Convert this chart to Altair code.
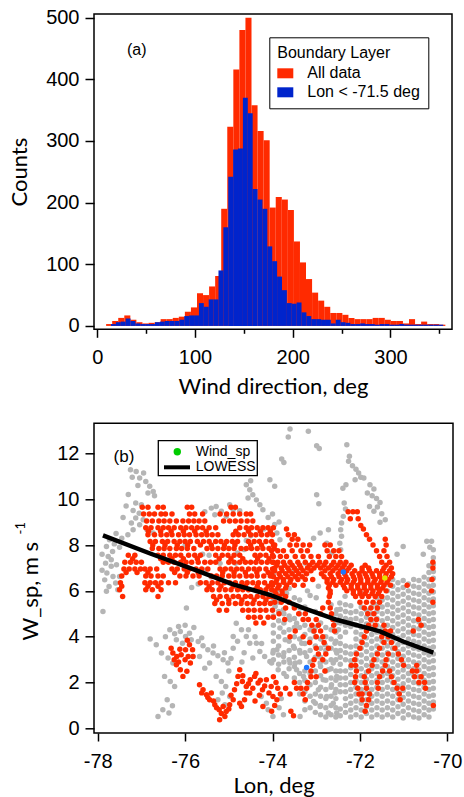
import altair as alt
import pandas as pd

RED = "#ff2a00"
BLUE_H = "#0024cc"
GRAY = "#b5b5b5"
GREEN = "#00cc00"
LABEL_FONT = "Liberation Sans"
TITLE_FONT = "Lato"

# ---------------- Panel (a): histograms ----------------
hist_red_start = 9.0
hist_red_width = 6.2
hist_red_counts = [3, 8, 13, 17, 10, 6, 4, 5, 6, 11, 11, 13, 15, 23, 30, 53, 50, 64, 81, 190,
                   323, 416, 480, 500, 358, 316, 301, 192, 209, 205, 188, 137, 103, 76, 54, 41,
                   31, 21, 21, 18, 13, 11, 11, 11, 13, 13, 10, 8, 8, 4, 11, 3, 7, 3, 3, 2]
hist_blue_start = 14.0
hist_blue_width = 5.0
hist_blue_counts = [3, 6, 7, 12, 8, 4, 3, 3, 3, 6, 7, 8, 8, 8, 10, 16, 17, 17, 37, 31,
                    43, 43, 90, 160, 242, 286, 288, 370, 345, 222, 205, 190, 129, 105, 80, 58, 37, 36, 38, 22,
                    16, 11, 11, 10, 10, 4, 10, 6, 5, 3, 3, 4, 3, 3, 2, 3, 3, 2, 2, 3,
                    2, 2, 2, 2, 2, 2, 2, 2]
series_names = ["All data", "Lon < -71.5 deg"]

# ---------------- Panel (b): scatter ----------------
gray_top_left = [(-77.25, 11.28), (-77.12, 11.21), (-76.95, 11.14), (-77.21, 10.96), (-77.04, 10.92),
                 (-76.90, 10.77), (-76.81, 10.56), (-76.73, 10.34), (-76.70, 10.15), (-76.85, 10.27),
                 (-77.13, 9.83), (-77.00, 9.76), (-77.19, 9.51), (-77.05, 9.39), (-77.13, 9.18),
                 (-76.96, 9.10), (-77.23, 8.96), (-77.04, 8.88), (-76.87, 8.67), (-77.19, 8.67),
                 (-77.31, 8.45), (-76.73, 8.52), (-77.08, 10.6), (-77.3, 10.2), (-77.35, 9.7), (-77.42, 9.2)]
gray_left_col = [(-77.73, 8.23), (-77.80, 7.94), (-77.66, 7.72), (-77.76, 7.50), (-77.82, 7.21),
                 (-77.69, 7.07), (-77.57, 7.14), (-77.79, 6.78), (-77.65, 6.63), (-77.84, 6.48),
                 (-77.74, 6.19), (-77.59, 6.34), (-77.54, 6.05), (-77.80, 5.98), (-77.88, 5.10),
                 (-77.69, 7.36), (-77.50, 6.63), (-77.9, 6.9), (-77.62, 8.05), (-77.5, 7.9),
                 (-77.45, 8.3), (-77.58, 8.5), (-77.9, 7.6)]
gray_mid_upper = [(-75.40, 9.61), (-75.29, 9.68), (-75.17, 9.47), (-75.32, 9.32), (-74.98, 9.76),
                  (-74.90, 9.54), (-75.06, 9.25), (-74.60, 10.63), (-74.52, 10.41), (-74.45, 10.19),
                  (-74.56, 10.05), (-74.37, 9.97), (-74.29, 9.76), (-74.22, 9.54), (-74.06, 10.85),
                  (-73.95, 10.56), (-75.55, 9.45), (-74.5, 10.8), (-74.75, 9.5), (-73.85, 9.0),
                  (-75.6, 7.6), (-75.45, 7.55), (-74.8, 7.65), (-74.65, 7.8), (-74.6, 8.2), (-74.5, 8.4),
                  (-74.85, 7.2), (-75.55, 6.9), (-75.4, 6.6), (-75.7, 6.3), (-75.85, 6.15), (-75.97, 5.25),
                  (-76.0, 8.0), (-76.3, 7.3), (-75.2, 7.2), (-74.2, 8.7), (-74.1, 9.2)]
gray_top_right = [(-73.60, 13.06), (-73.64, 12.71), (-73.18, 12.96), (-72.99, 12.33), (-72.93, 12.21),
                  (-72.30, 12.37), (-73.79, 11.75), (-73.74, 11.60), (-72.24, 11.87), (-72.26, 11.65),
                  (-72.17, 11.46), (-72.09, 11.31), (-72.03, 11.14), (-71.98, 10.96), (-72.11, 10.85),
                  (-71.91, 10.92), (-72.32, 10.63), (-72.39, 10.48), (-71.77, 10.63), (-71.68, 10.44),
                  (-71.83, 10.27), (-71.72, 10.15), (-71.62, 10.03), (-71.54, 9.86), (-71.60, 9.66),
                  (-71.78, 9.68), (-71.68, 9.47), (-71.50, 9.36), (-71.42, 9.10), (-71.54, 8.99),
                  (-72.99, 10.19), (-72.94, 9.80), (-72.36, 9.83), (-72.33, 9.57), (-72.38, 9.25),
                  (-72.42, 8.96), (-72.44, 8.67), (-72.42, 8.38), (-72.46, 8.08), (-72.44, 7.79),
                  (-71.01, 7.94), (-70.47, 8.16), (-70.36, 8.16), (-70.32, 7.79), (-73.90, 8.52),
                  (-73.83, 8.23), (-72.91, 8.52), (-73.06, 8.30), (-72.72, 8.67), (-72.76, 8.08),
                  (-72.65, 7.65), (-74.0, 9.35), (-73.95, 8.9), (-71.15, 7.6), (-70.55, 7.6), (-70.4, 7.9)]
gray_lower_left = [(-76.35, 4.30), (-76.24, 4.13), (-76.11, 4.23), (-75.99, 4.01), (-75.86, 3.87),
                   (-76.20, 3.87), (-76.06, 3.72), (-76.66, 3.65), (-76.54, 3.29), (-76.39, 3.07),
                   (-76.28, 2.85), (-75.70, 3.79), (-75.59, 3.61), (-75.48, 3.43), (-75.36, 3.29),
                   (-75.25, 3.17), (-75.13, 3.00), (-75.02, 2.85), (-75.44, 2.85), (-75.55, 2.63),
                   (-75.67, 3.14), (-75.82, 3.14), (-74.83, 4.59), (-74.71, 4.30), (-74.60, 4.01),
                   (-74.52, 3.72), (-74.37, 3.72), (-74.29, 3.36), (-74.18, 3.14), (-74.45, 3.07),
                   (-74.06, 2.92), (-73.99, 3.29), (-74.90, 4.01), (-76.47, 2.27), (-76.34, 2.05),
                   (-76.24, 1.83), (-76.41, 1.25), (-76.29, 0.99), (-76.51, 0.81), (-76.62, 0.52),
                   (-76.37, 0.67), (-75.29, 2.27), (-75.17, 2.05), (-75.07, 1.83), (-75.15, 1.54),
                   (-74.98, 1.39), (-75.25, 1.25), (-75.09, 1.03), (-74.14, 1.10), (-74.10, 0.81),
                   (-73.99, 0.52), (-74.26, 1.39), (-73.85, 0.9), (-73.75, 0.6), (-73.8, 1.3),
                   (-76.0, 4.5), (-75.8, 4.4), (-76.45, 4.0), (-76.8, 3.9), (-74.65, 3.3), (-74.9, 3.5),
                   (-75.0, 2.5), (-74.7, 2.9), (-75.9, 4.15), (-76.15, 4.45), (-75.62, 3.95), (-75.35, 3.6),
                   (-75.1, 3.3), (-74.95, 3.05), (-74.8, 3.8), (-74.55, 4.3), (-74.4, 4.0), (-74.25, 3.7)]
gray_mid_right = [(-74.02, 6.34), (-73.87, 6.05), (-73.68, 5.90), (-73.94, 5.32), (-73.75, 5.18),
                  (-73.52, 5.39), (-73.37, 5.25), (-73.60, 4.74), (-73.45, 4.59), (-73.83, 4.38),
                  (-73.98, 4.16), (-73.71, 3.87), (-73.52, 3.58), (-73.37, 3.29), (-73.90, 3.43),
                  (-73.75, 3.14), (-73.60, 2.85), (-73.45, 2.56), (-73.29, 2.27), (-74.02, 2.85),
                  (-73.87, 2.56), (-73.68, 2.27), (-73.48, 2.85), (-73.33, 3.72), (-73.22, 3.14),
                  (-73.06, 4.23), (-72.80, 3.65), (-72.91, 2.85), (-72.72, 2.56), (-72.84, 2.12),
                  (-72.65, 1.90), (-72.95, 1.69), (-72.76, 1.39), (-72.61, 1.10), (-72.91, 0.96),
                  (-72.72, 0.67), (-73.06, 1.18), (-73.26, 0.81), (-73.37, 0.52), (-72.53, 0.67),
                  (-72.57, 1.54), (-72.53, 2.27), (-72.61, 2.85), (-72.53, 3.29), (-72.57, 3.72),
                  (-72.49, 4.30), (-72.53, 5.18), (-72.46, 5.47), (-72.34, 5.76), (-73.2, 6.0),
                  (-73.0, 5.7), (-72.95, 6.2), (-73.5, 6.9), (-73.25, 7.2)]
# dense gray areas: (lon, [wind speeds]) read column by column
gray_block = [
    (-73.98, [3.0, 3.4, 3.8, 4.5, 4.9, 5.6, 6.0, 6.7]),
    (-73.86, [2.8, 3.2, 3.6, 4.0, 4.7, 5.1, 5.5, 6.2]),
    (-73.74, [2.4, 2.9, 3.3, 4.2, 4.6, 5.0, 5.7, 6.4]),
    (-73.62, [2.6, 3.0, 3.4, 3.8, 4.3, 4.9, 5.5, 6.1]),
    (-73.5, [2.2, 2.7, 3.1, 3.5, 4.0, 4.4, 4.8, 5.7]),
    (-73.38, [1.5, 2.0, 2.4, 2.9, 3.4, 3.9, 4.4, 5.0, 5.6]),
    (-73.26, [1.2, 1.6, 2.1, 2.5, 3.3, 3.7, 4.1, 4.5, 5.3]),
    (-73.14, [0.9, 1.4, 1.9, 2.4, 2.9, 3.4, 3.9, 4.3, 5.8]),
    (-73.02, [0.7, 1.1, 1.5, 2.0, 2.5, 3.1, 3.6, 4.0, 4.4, 5.1]),
    (-72.9, [0.6, 1.0, 1.4, 1.8, 2.3, 2.7, 3.1, 3.5, 3.9, 4.6]),
    (-72.78, [0.5, 0.9, 1.3, 1.7, 2.1, 2.5, 2.9, 3.4, 4.0, 4.4]),
    (-72.66, [0.6, 1.0, 1.4, 1.8, 2.2, 2.6, 3.0, 3.5, 3.9, 4.3, 5.4]),
    (-72.55, [0.5, 0.9, 1.3, 1.7, 2.1, 2.5, 3.0, 3.4, 3.8, 4.2, 4.6, 5.0]),
    (-72.45, [0.55, 0.85, 1.6, 1.9, 2.2, 2.5, 2.8, 3.1, 3.4, 3.7, 4.0, 4.6, 4.9, 5.2]),
    (-72.33, [0.7, 1.0, 1.3, 1.6, 1.9, 2.2, 2.5, 3.0, 3.3, 3.6, 4.2, 4.5, 4.8, 5.1, 5.4]),
    (-72.21, [0.5, 0.8, 1.1, 1.4, 1.7, 2.0, 2.35, 2.65, 2.95, 3.25, 3.55, 4.45, 4.75, 5.05, 5.35]),
    (-72.09, [0.6, 0.9, 1.2, 1.5, 1.8, 2.1, 2.7, 3.0, 3.3, 3.6, 3.9, 4.2, 4.5, 4.8, 5.1]),
    (-71.97, [0.5, 0.8, 1.1, 1.4, 1.7, 2.0, 2.3, 2.6, 2.9, 3.2, 3.5, 3.8, 4.1, 4.4, 4.7, 5.0, 5.3, 5.9]),
    (-71.85, [0.65, 0.95, 1.25, 1.55, 1.85, 2.15, 2.45, 2.75, 3.05, 3.35, 3.65, 3.95, 4.25, 4.55, 4.85, 5.15]),
    (-71.73, [0.5, 0.8, 1.1, 1.4, 1.7, 2.0, 2.3, 2.6, 2.9, 3.2, 3.5, 3.8, 4.1, 4.4, 4.7, 5.0, 5.3]),
    (-71.61, [0.6, 0.9, 1.2, 1.5, 1.8, 2.1, 2.4, 2.7, 3.0, 3.3, 3.6, 3.9, 4.2, 4.5, 4.8, 5.1, 5.4, 5.7]),
    (-71.49, [0.5, 0.8, 1.1, 1.4, 1.7, 2.0, 2.3, 2.6, 2.9, 3.2, 3.5, 3.8, 4.1, 4.4, 4.7, 5.0, 5.3, 5.6]),
    (-71.37, [0.6, 0.9, 1.2, 1.5, 1.8, 2.1, 2.4, 2.7, 3.0, 3.3, 3.6, 3.9, 4.2, 4.5, 4.8, 5.1, 5.4, 5.7, 6.0, 6.3]),
    (-71.25, [0.5, 0.8, 1.1, 1.4, 1.7, 2.0, 2.3, 2.6, 2.9, 3.2, 3.5, 3.8, 4.1, 4.4, 4.7, 5.0, 5.3, 5.6, 5.9, 6.2, 6.5]),
    (-71.13, [0.65, 0.95, 1.25, 1.55, 1.85, 2.15, 2.45, 2.75, 3.05, 3.35, 3.65, 3.95, 4.25, 4.55, 4.85, 5.15, 5.45, 5.75, 6.05, 6.35]),
    (-71.01, [0.45, 0.75, 1.05, 1.35, 1.65, 1.95, 2.25, 2.55, 2.85, 3.15, 3.45, 3.75, 4.05, 4.35, 4.65, 4.95, 5.25, 5.55, 5.85, 6.15, 6.45]),
    (-70.89, [0.6, 0.9, 1.2, 1.5, 1.8, 2.1, 2.4, 2.7, 3.0, 3.3, 3.6, 3.9, 4.2, 4.5, 4.8, 5.1, 5.4, 5.7, 6.0, 6.3]),
    (-70.77, [0.5, 0.8, 1.1, 1.4, 1.7, 2.0, 2.3, 2.6, 2.9, 3.2, 3.5, 3.8, 4.1, 4.4, 4.7, 5.0, 5.3, 5.6, 5.9, 6.2, 6.5]),
    (-70.65, [0.45, 0.75, 1.05, 1.35, 1.65, 1.95, 2.25, 2.55, 2.85, 3.15, 3.45, 3.75, 4.05, 4.35, 4.65, 4.95, 5.25, 5.55, 5.85, 6.15, 6.45]),
    (-70.53, [0.6, 0.9, 1.2, 1.5, 1.8, 2.1, 2.4, 2.7, 3.0, 3.3, 3.6, 3.9, 4.2, 4.5, 4.8, 5.1, 5.4, 5.7, 6.0, 6.3, 6.6]),
    (-70.42, [0.5, 0.8, 1.1, 1.4, 1.7, 2.0, 2.3, 2.6, 2.9, 3.2, 3.5, 3.8, 4.1, 4.4, 4.7, 5.0, 5.3, 5.6, 5.9, 6.2, 6.5, 6.8, 7.1]),
    (-70.32, [0.85, 1.15, 1.45, 1.75, 2.05, 2.35, 2.65, 2.95, 3.25, 3.55, 3.85, 4.15, 4.45, 4.75, 5.05, 5.35, 5.65, 5.95, 6.25, 6.55, 6.85, 7.15, 7.45]),
]

# red points: upper band read row by row (wind speed, [longitudes])
red_band_rows = [
    (9.65, [-76.98, -76.85, -76.62, -76.5, -75.95, -75.85, -74.95, -74.85]),
    (9.35, [-76.95, -76.82, -76.7, -76.55, -76.45, -76.3, -75.9, -75.78, -75.6, -75.2, -75.05, -74.9, -74.75, -74.6, -74.5]),
    (9.05, [-76.88, -76.75, -76.6, -76.48, -76.35, -76.2, -76.05, -75.92, -75.8, -75.68, -75.55, -75.12, -74.98, -74.85, -74.72, -74.58, -74.45]),
    (8.75, [-76.9, -76.78, -76.62, -76.5, -76.38, -76.25, -76.1, -75.98, -75.85, -75.72, -75.6, -75.45, -75.3, -74.75, -74.6, -74.48, -74.35, -74.22, -74.1, -73.98]),
    (8.6, [-76.84, -76.56, -76.32, -76.04, -75.78, -75.52, -74.84, -74.55, -74.28, -74.05]),
    (8.45, [-76.85, -76.7, -76.55, -76.42, -76.3, -76.15, -76.02, -75.9, -75.75, -75.62, -75.5, -75.38, -75.25, -74.9, -74.78, -74.65, -74.5, -74.38, -74.25, -74.12, -74.0]),
    (8.15, [-76.8, -76.68, -76.52, -76.4, -76.25, -76.12, -76.0, -75.88, -75.72, -75.58, -75.45, -75.3, -75.18, -75.05, -74.92, -74.8, -74.55, -74.42, -74.3, -74.15, -74.02]),
    (8.0, [-76.74, -76.46, -76.18, -75.94, -75.65, -75.4, -75.1, -74.86, -74.5, -74.25, -73.98]),
    (7.85, [-76.75, -76.6, -76.48, -76.35, -76.2, -76.08, -75.95, -75.8, -75.5, -75.38, -75.25, -75.12, -75.0, -74.88, -74.72, -74.6, -74.48, -74.35, -74.22, -74.08, -73.96]),
    (7.55, [-77.3, -77.15, -76.62, -76.5, -76.35, -76.22, -76.1, -75.92, -75.78, -75.65, -75.3, -75.15, -75.02, -74.88, -74.75, -74.4, -74.28, -74.15, -74.0]),
    (7.4, [-77.2, -76.56, -76.3, -76.04, -75.72, -75.22, -74.95, -74.68, -74.34, -74.08]),
    (7.25, [-77.38, -77.25, -77.12, -77.0, -76.5, -76.38, -76.25, -76.1, -75.98, -75.85, -75.7, -75.55, -75.42, -75.3, -75.0, -74.88, -74.75, -74.62, -74.5, -74.38, -74.25, -74.12, -73.98]),
    (6.95, [-77.4, -77.28, -77.15, -77.02, -76.92, -76.8, -76.65, -76.3, -76.18, -76.02, -75.9, -75.75, -75.62, -75.48, -75.2, -75.08, -74.95, -74.82, -74.7, -74.55, -74.42, -74.3, -74.15, -74.0]),
    (6.8, [-77.35, -77.1, -76.85, -76.24, -75.95, -75.7, -75.14, -74.88, -74.62, -74.36, -74.1]),
    (6.65, [-77.45, -76.9, -76.78, -76.62, -76.5, -76.12, -75.98, -75.82, -75.68, -75.4, -75.28, -75.15, -75.0, -74.88, -74.75, -74.6, -74.48, -74.35, -74.2, -74.05]),
    (6.35, [-77.48, -76.92, -76.8, -76.68, -76.55, -76.38, -76.22, -75.65, -75.52, -75.38, -75.25, -75.1, -74.98, -74.85, -74.7, -74.58, -74.45, -74.32, -74.18, -74.02]),
    (6.2, [-77.45, -76.85, -76.62, -75.45, -75.18, -74.9, -74.62, -74.35, -74.1]),
    (6.05, [-77.5, -76.9, -76.75, -76.55, -75.5, -75.38, -75.22, -75.08, -74.95, -74.8, -74.68, -74.55, -74.4, -74.28, -74.15, -74.02]),
    (5.75, [-77.43, -76.62, -75.35, -75.2, -75.05, -74.9, -74.78, -74.62, -74.5, -74.35, -74.22, -74.08, -73.95]),
    (5.6, [-75.28, -75.0, -74.7, -74.42, -74.15]),
    (5.45, [-75.32, -75.15, -75.0, -74.85, -74.72, -74.58, -74.45, -74.3, -74.18, -74.05]),
    (5.15, [-75.22, -75.05, -74.68, -74.55, -74.42, -74.28, -74.15, -74.0]),
    (4.85, [-74.55, -74.42, -74.28, -74.1, -73.98]),
    (4.6, [-74.38, -74.2]),
]
red_right_rows = [
    (9.45, [-72.27, -72.16, -72.06]),
    (9.15, [-72.22, -72.04]),
    (8.85, [-71.98]),
    (8.7, [-73.68, -71.92]),
    (8.45, [-73.64, -73.5, -71.85]),
    (8.25, [-73.55, -73.42, -71.78, -71.42]),
    (8.0, [-73.95, -73.6, -73.45, -73.3, -73.15, -72.8, -72.68, -71.7, -71.4]),
    (7.75, [-74.02, -73.88, -73.75, -73.55, -73.35, -73.2, -72.75, -72.6, -72.48, -71.62, -71.45]),
    (7.5, [-73.98, -73.82, -73.68, -73.48, -73.3, -73.12, -72.95, -72.7, -72.55, -72.42, -71.55, -71.38]),
    (7.25, [-74.0, -73.88, -73.75, -73.6, -73.42, -73.25, -73.08, -72.92, -72.78, -72.6, -72.45, -72.32, -71.5, -71.32, -70.33]),
    (7.12, [-73.9, -73.72, -73.55, -73.38, -73.15, -72.98, -72.82, -72.65, -72.5, -72.36, -72.2, -71.88, -71.4]),
    (7.0, [-73.95, -73.8, -73.65, -73.5, -73.35, -73.2, -73.05, -72.9, -72.72, -72.55, -72.4, -72.25, -71.95, -71.8, -71.45, -71.28, -70.33]),
    (6.88, [-73.95, -73.78, -73.62, -73.45, -73.3, -73.12, -72.8, -72.62, -72.45, -72.3, -72.12, -71.95, -71.78, -71.62, -71.48, -71.32]),
    (6.75, [-74.02, -73.85, -73.7, -73.55, -73.4, -73.22, -72.88, -72.68, -72.5, -72.35, -72.18, -72.02, -71.88, -71.72, -71.55, -71.4, -71.25]),
    (6.62, [-73.98, -73.82, -73.65, -73.48, -73.32, -72.82, -72.65, -72.48, -72.32, -72.15, -72.0, -71.85, -71.7, -71.55, -71.42, -71.28]),
    (6.5, [-73.9, -73.75, -73.58, -73.42, -73.25, -73.08, -72.75, -72.6, -72.42, -72.28, -72.12, -71.98, -71.82, -71.65, -71.5, -71.35, -70.35]),
    (6.38, [-73.92, -73.75, -73.6, -72.75, -72.62, -72.45, -72.3, -72.15, -71.98, -71.82, -71.68, -71.52, -71.38]),
    (6.25, [-74.0, -73.85, -73.68, -73.5, -73.3, -72.7, -72.55, -72.38, -72.2, -72.05, -71.9, -71.75, -71.6, -71.45, -71.3, -70.92]),
    (6.12, [-73.88, -73.7, -72.72, -72.35, -72.2, -72.05, -71.9, -71.75, -71.6, -71.48]),
    (6.0, [-73.95, -73.78, -72.68, -72.3, -72.15, -72.0, -71.85, -71.7, -71.55, -71.4, -70.36]),
    (5.88, [-73.92, -73.78, -72.68, -72.15, -72.0, -71.88, -71.72, -71.58]),
    (5.75, [-74.0, -73.85, -73.7, -72.7, -72.1, -71.95, -71.8, -71.65, -71.5]),
    (5.5, [-73.95, -73.8, -73.62, -72.72, -72.0, -71.85, -71.7, -71.55, -70.33]),
    (5.25, [-73.7, -73.5, -72.85, -72.68, -71.9, -71.75, -71.6]),
    (5.0, [-73.85, -73.4, -73.25, -72.9, -72.65, -71.82, -71.68]),
    (4.75, [-73.72, -73.3, -73.18, -73.0, -72.62, -71.75, -71.62, -70.66]),
    (4.5, [-73.1, -72.95, -72.6, -71.8, -71.65, -71.45, -70.6]),
    (4.25, [-73.48, -73.05, -72.9, -72.58, -71.85, -71.42, -71.3, -70.78]),
    (4.0, [-73.6, -73.3, -73.0, -72.85, -71.9, -71.5, -71.35]),
    (3.75, [-73.15, -72.82, -71.95, -71.45, -71.28]),
    (3.5, [-73.0, -72.72, -72.0, -71.55, -71.2]),
    (3.25, [-72.95, -72.78, -72.08, -71.6, -71.35, -71.12]),
    (3.0, [-73.05, -72.85, -72.12, -71.68, -71.4, -71.05]),
    (2.75, [-73.08, -72.2, -72.1, -71.72, -71.42, -71.0, -70.7]),
    (2.5, [-73.12, -72.8, -72.08, -71.8, -71.48, -71.32, -70.8, -70.7]),
    (2.25, [-73.98, -73.12, -73.0, -72.1, -71.9, -71.55, -71.28, -70.75, -70.6]),
    (2.0, [-73.92, -73.5, -73.2, -72.12, -71.88, -71.6, -71.22, -70.65, -70.52]),
    (1.75, [-73.88, -73.7, -73.45, -73.35, -73.22, -72.05, -71.85, -71.58, -71.15, -71.02, -70.5]),
    (1.5, [-73.82, -73.6, -73.3, -72.02, -71.95, -71.78, -71.1]),
    (1.25, [-73.9, -73.25, -71.95, -71.8, -71.08]),
    (1.0, [-73.95, -71.85, -70.32]),
    (0.75, [-74.02, -73.58, -71.88]),
    (0.55, [-73.52]),
]
red_lower_left = [(-76.28, 3.29), (-76.19, 3.14), (-76.09, 3.21), (-75.99, 3.43), (-75.90, 3.65),
                  (-75.83, 3.43), (-75.93, 3.14), (-75.82, 3.14), (-76.20, 2.78), (-76.11, 2.56),
                  (-76.05, 2.27), (-75.96, 2.49), (-75.67, 1.90), (-75.59, 1.69), (-75.51, 1.47),
                  (-75.44, 1.25), (-75.32, 1.03), (-75.22, 0.81), (-75.13, 0.96), (-75.06, 0.74),
                  (-74.98, 1.03), (-74.90, 1.25), (-75.21, 0.38), (-75.40, 1.54), (-75.09, 0.52),
                  (-74.79, 2.27), (-74.69, 2.05), (-74.60, 1.83), (-74.51, 2.12), (-74.41, 2.27),
                  (-74.33, 1.98), (-74.23, 1.69), (-74.14, 2.12), (-74.03, 1.83), (-73.99, 1.39),
                  (-74.52, 1.54), (-74.64, 1.25), (-74.71, 0.96), (-74.22, 0.96), (-74.87, 1.69),
                  (-74.75, 2.56), (-76.25, 3.0), (-76.15, 2.9), (-76.0, 3.0), (-75.88, 2.85),
                  (-75.62, 1.55), (-75.48, 1.35), (-75.35, 1.2), (-75.28, 0.9), (-75.17, 0.65),
                  (-75.0, 0.85), (-74.95, 1.45), (-74.82, 1.95), (-74.68, 2.3), (-74.55, 1.95),
                  (-74.45, 1.75), (-74.38, 2.4), (-74.28, 2.1), (-74.18, 1.85), (-74.08, 1.55),
                  (-74.6, 1.55), (-74.75, 1.1), (-74.4, 1.2), (-74.3, 1.45), (-76.32, 3.5),
                  (-76.12, 3.45), (-75.95, 3.85)]
special_points = [(-72.38, 6.82, "#1e78ff"), (-73.22, 2.66, "#1e78ff"), (-71.43, 6.56, "#e6e600")]

lowess_lon = [-77.88, -76.8, -75.82, -74.9, -74.06, -73.29, -72.53, -71.54, -71.01, -70.32]
lowess_ws = [8.42, 7.63, 6.95, 6.28, 5.83, 5.25, 4.74, 4.23, 3.79, 3.31]

# ---------------- build tables ----------------
hist_rows = []
for i, c in enumerate(hist_red_counts):
    x0 = hist_red_start + i * hist_red_width
    hist_rows.append({"x": x0, "x2": x0 + hist_red_width, "count": c, "series": series_names[0], "o": 0})
for i, c in enumerate(hist_blue_counts):
    x0 = hist_blue_start + i * hist_blue_width
    hist_rows.append({"x": x0, "x2": x0 + hist_blue_width, "count": c, "series": series_names[1], "o": 1})
hist_df = pd.DataFrame(hist_rows)

gray_pts = gray_top_left + gray_left_col + gray_mid_upper + gray_top_right + gray_lower_left + gray_mid_right
for lon, wss in gray_block:
    gray_pts += [(lon, w) for w in wss]
gray_df = pd.DataFrame(gray_pts, columns=["lon", "ws"])

red_pts = list(red_lower_left)
for w, lons in red_band_rows + red_right_rows:
    red_pts += [(l, w) for l in lons]
red_df = pd.DataFrame(red_pts, columns=["lon", "ws"])

special_df = pd.DataFrame(special_points, columns=["lon", "ws", "c"])
lowess_df = pd.DataFrame({"lon": lowess_lon, "ws": lowess_ws})

# ---------------- panel (a) ----------------
WA, HA = 358, 315.3
xa = alt.X("x:Q", scale=alt.Scale(domain=[-3.4, 363], nice=False, zero=False),
           axis=alt.Axis(values=[0, 50, 100, 150, 200, 250, 300, 350],
                         labelExpr="datum.value % 100 === 0 ? datum.label : ''",
                         tickSize={"condition": {"test": "datum.value % 100 === 0", "value": 8}, "value": 4},
                         labelPadding=10, title="Wind direction, deg",
                         titleBaseline="alphabetic", titleY=64.5))
ya = alt.Y("count:Q", scale=alt.Scale(domain=[-5.5, 506], nice=False, zero=False),
           axis=alt.Axis(values=[0, 100, 200, 300, 400, 500], tickSize=9, labelPadding=6,
                         title="Counts", titleX=-74.3, titleY=HA / 2, titleAngle=270,
                         titleAlign="center", titleBaseline="middle"))
legend_a = alt.Legend(orient="none", legendX=175.3, legendY=23.3, title="Boundary Layer",
                      titleFont=LABEL_FONT, titleFontSize=16, titleFontWeight="normal", titleColor="black",
                      labelFont=LABEL_FONT, labelFontSize=16, labelColor="black",
                      symbolType="M-1,-0.625H1V0.625H-1Z", symbolSize=256, symbolStrokeWidth=0,
                      symbolOpacity=1, strokeColor="black", fillColor="white", padding=8,
                      labelOffset=14, rowPadding=3, titlePadding=4)
bars = alt.Chart(hist_df).mark_rect(strokeWidth=0, opacity=1).encode(
    x=xa, x2="x2:Q", y=ya, y2=alt.datum(0),
    color=alt.Color("series:N", scale=alt.Scale(domain=series_names, range=[RED, BLUE_H]), legend=legend_a),
    order=alt.Order("o:Q"),
)
text_a = alt.Chart(pd.DataFrame({"t": ["(a)"]})).mark_text(
    font=LABEL_FONT, fontSize=16, color="black", align="center", baseline="middle"
).encode(text="t:N", x=alt.value(42.7), y=alt.value(36.3))
panel_a = alt.layer(bars, text_a).properties(width=WA, height=HA)

# ---------------- panel (b) ----------------
WB, HB = 359, 309.7
xb_scale = alt.Scale(domain=[-78.085, -69.87], nice=False, zero=False)
yb_scale = alt.Scale(domain=[-0.2, 13.31], nice=False, zero=False)
xb_axis = alt.Axis(values=[-78, -76, -74, -72, -70], tickSize=8, labelPadding=10,
                   labelExpr="datum.value < 0 ? '-' + abs(datum.value) : '' + datum.value",
                   title="Lon, deg", titleBaseline="alphabetic", titleY=59)
yb_axis = alt.Axis(values=[0, 2, 4, 6, 8, 10, 12], tickSize=9, labelPadding=6,
                   title="W_sp, m s", titleX=-63.2, titleY=167.4, titleAngle=270,
                   titleAlign="center", titleBaseline="middle")

DOT = 30
gray = alt.Chart(gray_df).mark_circle(size=DOT, color=GRAY, opacity=1).encode(
    x=alt.X("lon:Q", scale=xb_scale, axis=xb_axis), y=alt.Y("ws:Q", scale=yb_scale, axis=yb_axis))
red = alt.Chart(red_df).mark_circle(size=DOT, color=RED, opacity=1).encode(x="lon:Q", y="ws:Q")
special = alt.Chart(special_df).mark_circle(size=DOT, opacity=1).encode(
    x="lon:Q", y="ws:Q", color=alt.Color("c:N", scale=None))
lowess = alt.Chart(lowess_df).mark_line(color="black", strokeWidth=4.5).encode(x="lon:Q", y="ws:Q")

one = pd.DataFrame({"k": [0]})
leg_box = alt.Chart(one).mark_rect(fill="white", stroke="black", strokeWidth=1.3).encode(
    x=alt.value(64.3), x2=alt.value(163.3), y=alt.value(17.4), y2=alt.value(52.4))
leg_dot = alt.Chart(one).mark_circle(size=55, color=GREEN, opacity=1).encode(
    x=alt.value(83.3), y=alt.value(28.4))
leg_line = alt.Chart(one).mark_rule(color="black", strokeWidth=4).encode(
    x=alt.value(70), x2=alt.value(96), y=alt.value(44))
leg_t1 = alt.Chart(pd.DataFrame({"t": ["Wind_sp"]})).mark_text(
    font=LABEL_FONT, fontSize=14, color="black", align="left", baseline="middle"
).encode(text="t:N", x=alt.value(101.7), y=alt.value(28.4))
leg_t2 = alt.Chart(pd.DataFrame({"t": ["LOWESS"]})).mark_text(
    font=LABEL_FONT, fontSize=14, color="black", align="left", baseline="middle"
).encode(text="t:N", x=alt.value(101.7), y=alt.value(44))
text_b = alt.Chart(pd.DataFrame({"t": ["(b)"]})).mark_text(
    font=LABEL_FONT, fontSize=17, color="black", align="center", baseline="middle"
).encode(text="t:N", x=alt.value(30), y=alt.value(34))
sup = alt.Chart(pd.DataFrame({"t": ["-1"]})).mark_text(
    font=TITLE_FONT, fontSize=13, color="black", align="center", baseline="middle", angle=270
).encode(text="t:N", x=alt.value(-73.2), y=alt.value(104.9))

panel_b = alt.layer(gray, red, special, lowess, leg_box, leg_dot, leg_line, leg_t1, leg_t2, text_b, sup
                    ).properties(width=WB, height=HB)

chart = alt.vconcat(panel_a, panel_b, spacing=93.3, bounds="flush").properties(
    padding={"left": 7, "top": 6, "right": 0, "bottom": 0}
).configure_view(stroke="black", strokeWidth=1.5).configure_axis(
    domain=False, grid=False, tickColor="black", tickWidth=1.5,
    labelFont=LABEL_FONT, labelFontSize=20, labelColor="black",
    titleFont=TITLE_FONT, titleFontSize=22, titleFontWeight="normal", titleColor="black",
)

chart.save("out.html", embed_options={"renderer": "svg", "actions": False})
